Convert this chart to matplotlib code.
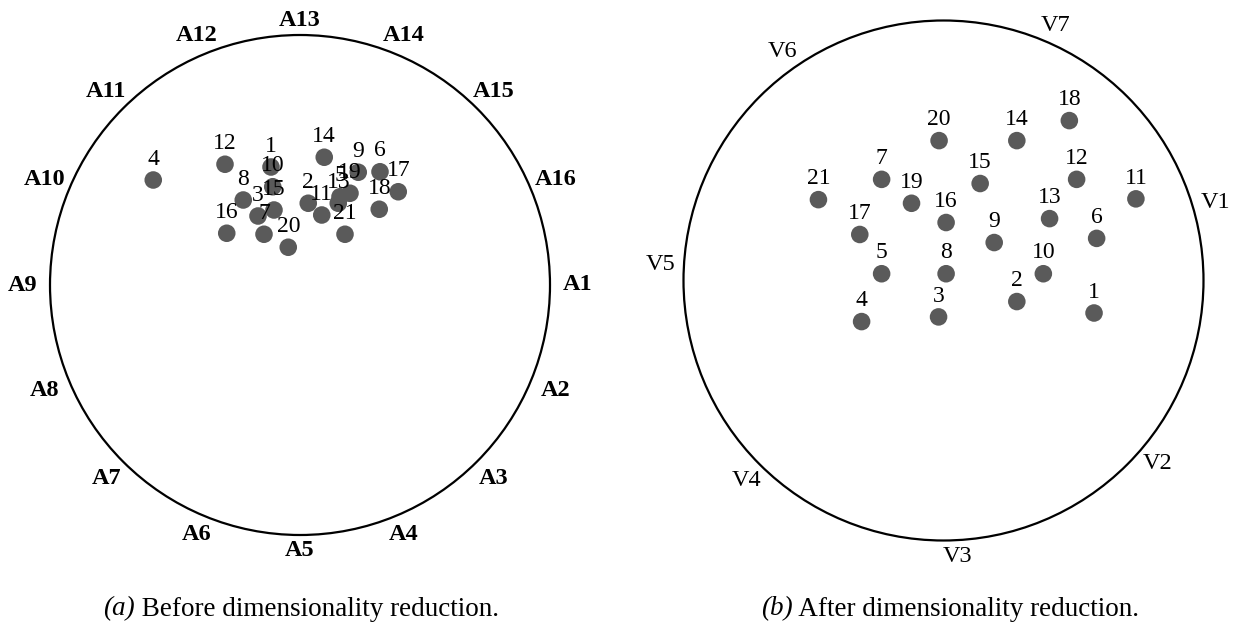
import numpy as np
import matplotlib
matplotlib.use("Agg")
import matplotlib.pyplot as plt

plt.rcParams['font.family'] = ['Liberation Serif', 'DejaVu Serif']

# (a) before: 16 anchors A1..A16, evenly spaced, A1 at 0 deg, clockwise
anchors_a = ["A%d" % i for i in range(1, 17)]
angles_a = [0 - 22.5 * i for i in range(16)]
pts_a_x = [-0.116, 0.033, -0.168, -0.587, 0.160, 0.320, -0.144, -0.227, 0.233, -0.109,
           0.087, -0.300, 0.153, 0.097, -0.104, -0.293, 0.393, 0.317, 0.200, -0.047, 0.180]
pts_a_y = [0.472, 0.327, 0.276, 0.420, 0.353, 0.453, 0.203, 0.340, 0.451, 0.393,
           0.280, 0.483, 0.327, 0.511, 0.300, 0.207, 0.373, 0.303, 0.367, 0.151, 0.203]

# (b) after: 7 anchors V1..V7
anchors_b = ["V%d" % i for i in range(1, 8)]
angles_b = [16, -40.5, -87, -134.5, 176.7, 125, 66.3]
pts_b_x = [0.579, 0.282, -0.019, -0.315, -0.238, 0.589, -0.238, 0.010, 0.195, 0.384,
           0.740, 0.512, 0.408, 0.282, 0.141, 0.010, -0.322, 0.484, -0.123, -0.017, -0.481]
pts_b_y = [-0.125, -0.081, -0.140, -0.158, 0.026, 0.162, 0.389, 0.026, 0.146, 0.026,
           0.314, 0.389, 0.238, 0.538, 0.373, 0.223, 0.177, 0.615, 0.297, 0.538, 0.311]

captions = ["(a)", "(b)"]
caption_text = [" Before dimensionality reduction.", " After dimensionality reduction."]

W, H = 1242, 633
fig = plt.figure(figsize=(W / 100, H / 100), dpi=100)


def radviz(cx, cy, r, names, angles, xs, ys, bold, rad0, radk):
    ax = fig.add_axes([(cx - r) / W, 1 - (cy + r) / H, 2 * r / W, 2 * r / H])
    ax.set_xlim(-1, 1)
    ax.set_ylim(-1, 1)
    ax.axis("off")
    ax.add_patch(plt.Circle((0, 0), 1, fill=False, lw=1.6, color="black", clip_on=False))
    for name, a in zip(names, angles):
        t = np.deg2rad(a)
        rr = rad0 + radk * abs(np.cos(t))
        ax.text(rr * np.cos(t), rr * np.sin(t), name, ha="center", va="center",
                fontsize=17.5, fontweight="bold" if bold else "normal", clip_on=False)
    ax.scatter(xs, ys, s=160, color="#5a5a5a", edgecolors="none", zorder=3)
    for i, (x, y) in enumerate(zip(xs, ys)):
        ax.annotate(str(i + 1), (x, y), xytext=(0, 15), textcoords="offset points",
                    ha="center", va="center", fontsize=17, zorder=4)
    return ax


radviz(300, 285, 250, anchors_a, angles_a, pts_a_x, pts_a_y, True, 1.06, 0.05)
radviz(943.5, 280.5, 260, anchors_b, angles_b, pts_b_x, pts_b_y, False, 1.06, 0.03)

# captions: italic "(a)" followed by upright text, centred as a whole
renderer = fig.canvas.get_renderer()
for xc, c, t in zip([301, 950], captions, caption_text):
    t1 = fig.text(0, 1 - 609 / H, c, fontstyle="italic", fontsize=19.5, va="center")
    t2 = fig.text(0, 1 - 609 / H, t, fontsize=19.5, va="center")
    w1 = t1.get_window_extent(renderer).width
    w2 = t2.get_window_extent(renderer).width
    x0 = xc - (w1 + w2) / 2
    t1.set_x(x0 / W)
    t2.set_x((x0 + w1) / W)

fig.savefig("out.png", dpi=100)
